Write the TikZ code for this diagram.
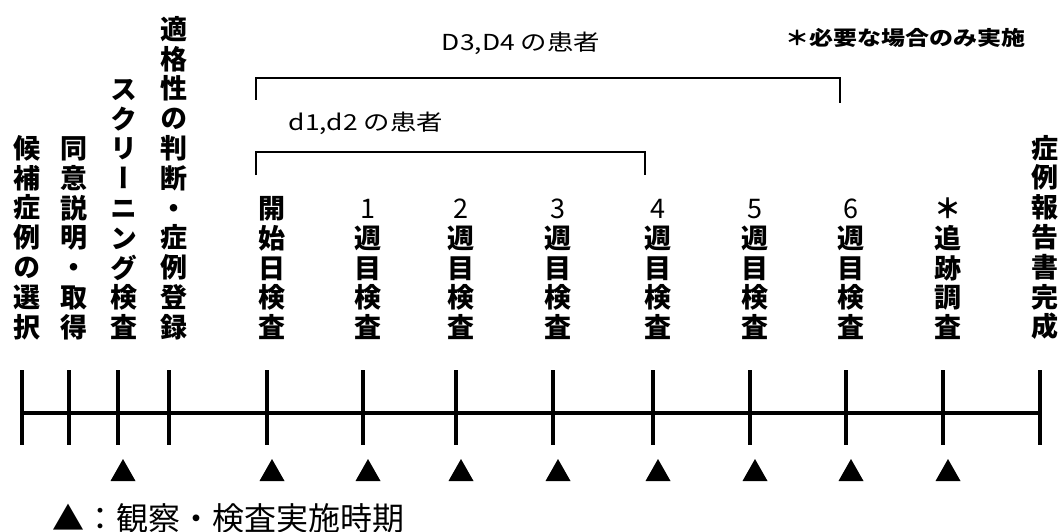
\documentclass[tikz,border=0pt]{standalone}
\usepackage{fontspec}
\newfontfamily\cjk{Noto Sans CJK JP}
\newfontfamily\cjkv[RawFeature=+vert]{Noto Sans CJK JP}
\begin{document}
\begin{tikzpicture}[x=1pt,y=-1pt,
  vlab/.style={anchor=south, inner sep=0pt, align=center,
    font=\cjkv\bfseries\fontsize{27}{29.8}\selectfont},
  toplab/.style={inner sep=0pt, xscale=1.2, transform shape,
    font=\cjk\fontsize{22}{24}\selectfont},
  axis/.style={line width=4.6pt},
  tickline/.style={line width=4.8pt},
  bracket/.style={line width=1.5pt},
  trimark/.style={fill=black}
]
\useasboundingbox (0,0) rectangle (1060,532);

% timeline
\coordinate (L) at (22,413);
\coordinate (R) at (1040,413);
\draw[axis] (L) -- (R);
\foreach \x [count=\i] in {22,69,118,169,267,363,456,553,653,750,846,943,1040}{
  \coordinate (tt\i) at (\x,370);
  \coordinate (tb\i) at (\x,445);
  \draw[tickline] (tt\i) -- (tb\i);
}

% triangles
\foreach \x [count=\i] in {123,272,368,461,558,658,755,851,948}{
  \fill[trimark] (\x-12.5,481) -- (\x+12.5,481) -- (\x,459) -- cycle;
}

% vertical labels
\node[vlab] (l1) at (27,340) {候\\補\\症\\例\\の\\選\\択};
\node[vlab] (l2) at (74,340) {同\\意\\説\\明\\・\\取\\得};
\node[vlab] (l3) at (124,340) {ス\\ク\\リ\\ー\\ニ\\ン\\グ\\検\\査};
\node[vlab] (l4) at (174,340) {適\\格\\性\\の\\判\\断\\・\\症\\例\\登\\録};
\node[vlab] (l5) at (272,340) {開\\始\\日\\検\\査};
\node[vlab] (l6) at (368,340) {{\mdseries 1}\\週\\目\\検\\査};
\node[vlab] (l7) at (461,340) {{\mdseries 2}\\週\\目\\検\\査};
\node[vlab] (l8) at (558,340) {{\mdseries 3}\\週\\目\\検\\査};
\node[vlab] (l9) at (658,340) {{\mdseries 4}\\週\\目\\検\\査};
\node[vlab] (l10) at (755,340) {{\mdseries 5}\\週\\目\\検\\査};
\node[vlab] (l11) at (851,340) {{\mdseries 6}\\週\\目\\検\\査};
\node[vlab] (l12) at (948,340) {＊\\追\\跡\\調\\査};
\node[vlab] (l13) at (1045,340) {症\\例\\報\\告\\書\\完\\成};

% brackets
\coordinate (D1) at (256,100);
\coordinate (D2) at (256,78);
\coordinate (D3) at (840,78);
\coordinate (D4) at (840,103);
\draw[bracket] (D1) -- (D2) -- (D3) -- (D4);
\coordinate (d1) at (256,175);
\coordinate (d2) at (256,152);
\coordinate (d3) at (645,152);
\coordinate (d4) at (645,175);
\draw[bracket] (d1) -- (d2) -- (d3) -- (d4);

\node[toplab] (big) at (521,43) {D3,D4 の患者};
\node[toplab] (small) at (366,123) {d1,d2 の患者};
\node[inner sep=0pt, xscale=1.2, transform shape,
  font=\cjk\bfseries\fontsize{20}{22}\selectfont] (note) at (905,38) {＊必要な場合のみ実施};

% legend
\node[anchor=west, inner sep=0pt, font=\cjk\fontsize{32}{34}\selectfont] (legend) at (52,518) {▲：観察・検査実施時期};
\end{tikzpicture}
\end{document}
